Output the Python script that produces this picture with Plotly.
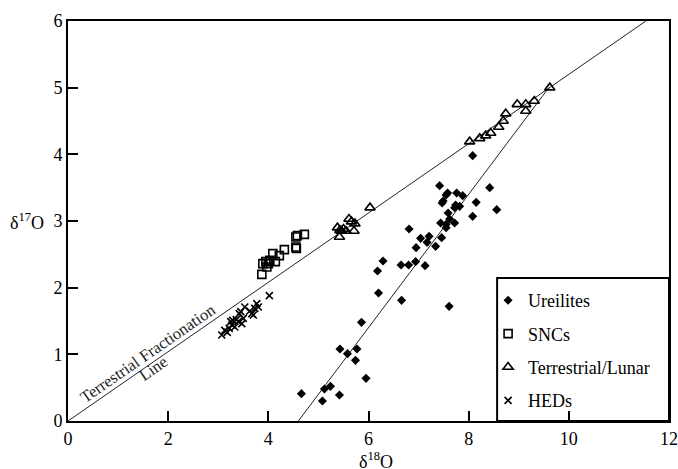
import plotly.graph_objects as go

# ---------------- data ----------------
ure_x = [4.66, 5.08, 5.12, 5.24, 5.42, 5.43, 5.58, 5.74, 5.77, 5.95, 5.86, 6.20, 6.18, 6.29,
         6.66, 6.65, 6.80, 6.94, 7.13, 6.81, 6.95, 7.04, 7.21, 7.17, 7.34, 7.46, 7.44, 7.55,
         7.55, 7.72, 7.59, 7.62, 7.47, 7.49, 7.55, 7.58, 7.42, 7.76, 7.88, 7.74, 7.72, 7.82,
         8.15, 8.08, 8.42, 8.56, 7.61, 8.08]
ure_y = [0.41, 0.30, 0.48, 0.52, 0.39, 1.08, 1.01, 0.91, 1.08, 0.64, 1.48, 1.92, 2.25, 2.40,
         1.81, 2.34, 2.34, 2.39, 2.33, 2.88, 2.60, 2.74, 2.77, 2.68, 2.62, 2.75, 2.97, 2.95,
         2.90, 2.97, 3.12, 3.03, 3.27, 3.30, 3.39, 3.42, 3.53, 3.42, 3.38, 3.24, 3.20, 3.22,
         3.28, 3.07, 3.50, 3.17, 1.72, 3.98]

snc_x = [3.87, 3.89, 3.95, 3.97, 4.00, 4.03, 4.09, 4.14, 4.22, 4.32, 4.55, 4.58, 4.72, 4.55, 4.56]
snc_y = [2.20, 2.36, 2.39, 2.31, 2.36, 2.41, 2.51, 2.39, 2.48, 2.57, 2.76, 2.78, 2.80, 2.61, 2.59]

terr_x = [5.38, 5.42, 5.43, 5.46, 5.50, 5.55, 5.61, 5.66, 5.73, 5.71, 6.03,
          8.02, 8.22, 8.34, 8.44, 8.60, 8.69, 8.74, 8.97, 9.14, 9.14, 9.31, 9.62]
terr_y = [2.90, 2.76, 2.86, 2.85, 2.88, 2.85, 3.03, 2.99, 2.96, 2.85, 3.20,
          4.19, 4.24, 4.28, 4.32, 4.41, 4.50, 4.61, 4.75, 4.75, 4.65, 4.80, 5.00]

hed_x = [3.07, 3.13, 3.22, 3.25, 3.29, 3.27, 3.33, 3.42, 3.45, 3.40, 3.47, 3.50,
         3.53, 3.63, 3.67, 3.70, 3.77, 3.80, 3.73, 4.02, 3.18, 3.36]
hed_y = [1.29, 1.36, 1.39, 1.49, 1.51, 1.44, 1.41, 1.61, 1.64, 1.49, 1.46, 1.54,
         1.71, 1.65, 1.61, 1.59, 1.76, 1.71, 1.69, 1.88, 1.33, 1.52]

tfl_x = [0, 12]
tfl_y = [0, 6.24]
ure_line_x = [4.6, 9.6]
ure_line_y = [0, 5.0]

x_ticks = [0, 2, 4, 6, 8, 10, 12]
y_ticks = [0, 1, 2, 3, 4, 5, 6]

FONT = "Liberation Serif"

fig = go.Figure()
fig.add_trace(go.Scatter(x=tfl_x, y=tfl_y, mode="lines", line=dict(color="#222", width=1),
                         showlegend=False, hoverinfo="skip"))
fig.add_trace(go.Scatter(x=ure_line_x, y=ure_line_y, mode="lines", line=dict(color="#222", width=1),
                         showlegend=False, hoverinfo="skip"))
fig.add_trace(go.Scatter(x=ure_x, y=ure_y, mode="markers", name="Ureilites", legendgroup="a",
                         marker=dict(symbol="diamond", size=7, color="black")))
fig.add_trace(go.Scatter(x=snc_x, y=snc_y, mode="markers", name="SNCs", legendgroup="b",
                         marker=dict(symbol="square-open", size=8, color="black", line=dict(width=1.6))))
fig.add_trace(go.Scatter(x=terr_x, y=terr_y, mode="markers", name="Terrestrial/Lunar", legendgroup="c",
                         marker=dict(symbol="triangle-up-open", size=9, color="black", line=dict(width=1.6))))
fig.add_trace(go.Scatter(x=hed_x, y=hed_y, mode="markers", name="HEDs", legendgroup="d",
                         marker=dict(symbol="x-thin-open", size=7, color="black", line=dict(width=1.6))))

axis_common = dict(showline=True, linecolor="black", linewidth=2, mirror=True,
                   ticks="inside", ticklen=10, tickwidth=2, tickcolor="black",
                   showgrid=False, zeroline=False, automargin=False,
                   ticklabeloverflow="allow",
                   tickfont=dict(family=FONT, size=18, color="black"))

fig.update_layout(
    width=678, height=469,
    margin=dict(l=68, r=9, t=21, b=48, autoexpand=False),
    paper_bgcolor="white", plot_bgcolor="white",
    font=dict(family=FONT, size=18, color="black"),
    xaxis=dict(range=[0, 12], tickvals=x_ticks, **axis_common),
    yaxis=dict(range=[0, 6], tickvals=y_ticks, **axis_common),
    showlegend=True,
    legend=dict(x=0.699, y=0.3475, xanchor="left", yanchor="top",
                bgcolor="rgba(0,0,0,0)", borderwidth=0,
                font=dict(family=FONT, size=18, color="black"),
                tracegroupgap=7),
    shapes=[dict(type="rect", xref="paper", yref="paper", x0=0.714, x1=1, y0=0, y1=0.3575,
                 line=dict(color="black", width=2), fillcolor="rgba(0,0,0,0)")],
    annotations=[
        dict(text="δ<sup>17</sup>O", xref="paper", yref="y", x=-0.036, y=3.0,
             xanchor="right", yanchor="middle", showarrow=False,
             font=dict(family=FONT, size=18, color="black")),
        dict(text="δ<sup>18</sup>O", xref="x", yref="paper", x=6.15, y=-0.098,
             xanchor="center", yanchor="middle", showarrow=False,
             font=dict(family=FONT, size=18, color="black")),
        dict(text="Terrestrial Fractionation", xref="x", yref="y", x=1.59, y=1.01,
             textangle=-34.7, showarrow=False,
             font=dict(family=FONT, size=16.5, color="#222")),
        dict(text="Line", xref="x", yref="y", x=1.70, y=0.79,
             textangle=-34.7, showarrow=False,
             font=dict(family=FONT, size=16.5, color="#222")),
    ],
)

fig.write_html("out.html", config={"displayModeBar": False},
               post_script="document.body.style.margin='0';document.body.style.overflow='hidden';")
